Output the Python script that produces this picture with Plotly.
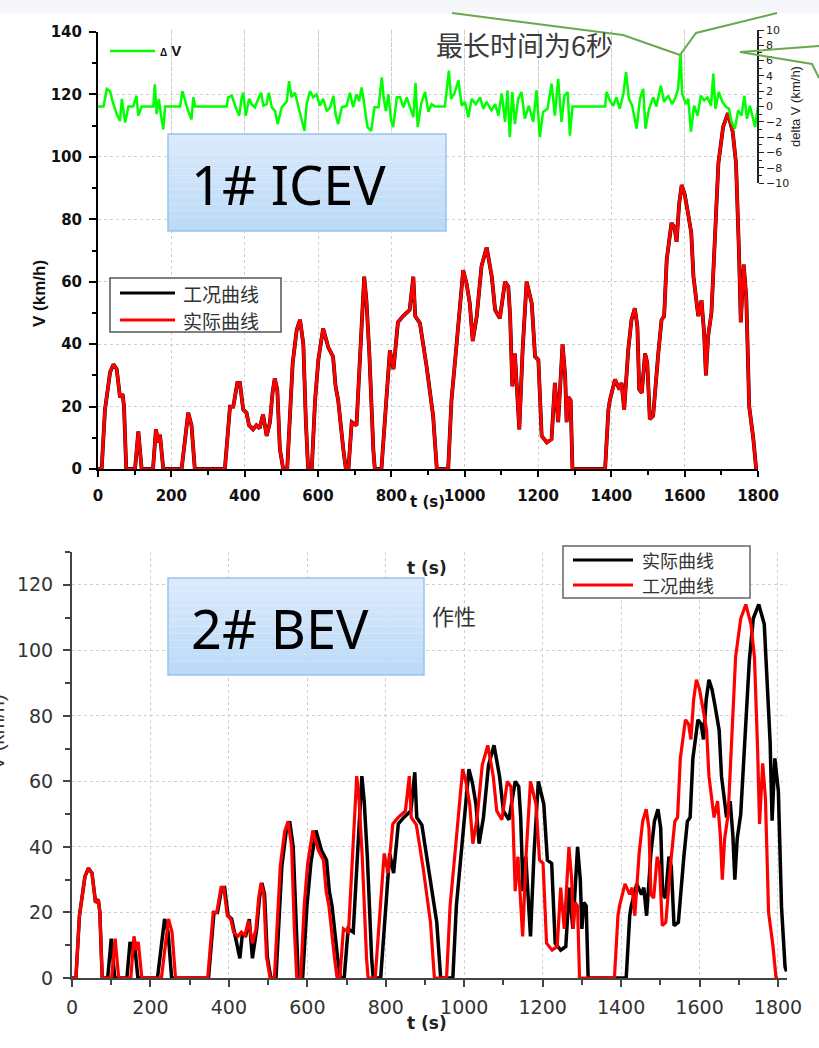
import plotly.graph_objects as go

W, H = 819, 1048

# ---------------- data ----------------
# Driving cycle (工况曲线), km/h vs s
cycle_t = [0, 10, 19, 33, 42, 51, 60, 67, 71, 77, 101, 110, 119, 150, 158, 164, 169, 173, 178, 228,
           246, 255, 264, 346, 360, 369, 380, 387, 396, 405, 412, 423, 432, 441, 450, 460, 469, 476, 482, 489,
           496, 505, 516, 531, 542, 551, 560, 567, 573, 583, 592, 601, 614, 628, 641, 648, 655, 669, 676, 683,
           692, 705, 719, 726, 732, 740, 751, 755, 773, 787, 796, 806, 818, 832, 850, 860, 865, 878, 896, 914,
           924, 955, 964, 978, 987, 996, 1005, 1014, 1022, 1033, 1046, 1060, 1074, 1083, 1096, 1110, 1119, 1124, 1130, 1137,
           1149, 1158, 1169, 1183, 1192, 1201, 1210, 1224, 1237, 1246, 1255, 1267, 1274, 1278, 1283, 1289, 1294, 1383, 1392, 1396,
           1410, 1422, 1428, 1435, 1446, 1455, 1464, 1471, 1476, 1483, 1492, 1498, 1505, 1514, 1528, 1537, 1544, 1551, 1564, 1572,
           1578, 1585, 1592, 1600, 1609, 1618, 1624, 1637, 1646, 1653, 1658, 1664, 1673, 1680, 1692, 1705, 1718, 1731, 1740, 1748,
           1753, 1761, 1768, 1776, 1787, 1795, 1800]
cycle_v = [0, 0, 19, 31, 33.5, 32, 23, 24, 20, 0, 0, 12, 0, 0, 12.7, 8.5, 11, 6, 0, 0,
           18, 14, 0, 0, 20, 20, 27.6, 27.6, 19, 18, 14, 12.7, 14, 13, 17.5, 10.6, 15, 24.4, 29, 25.5,
           6.4, 0, 0, 34, 44.6, 47.8, 40, 15, 0, 0, 22, 35, 45, 39, 36, 26.5, 22, 6.4, 0, 0,
           15, 14, 47, 61.6, 54, 37, 6, 0, 0, 23, 38, 32, 47, 49, 51, 61.6, 49, 46.7, 33, 17,
           0, 0, 22, 40, 51, 63.7, 59.5, 53, 41, 49, 65, 71, 61.6, 51, 48.3, 60, 58.4, 49, 26.5, 37,
           12.7, 38, 60, 53, 36, 35, 10.6, 8.5, 9.6, 27.6, 15, 40, 30, 15, 23, 22, 0, 0, 19, 22,
           28.7, 25.5, 27.6, 19, 38, 47.8, 51.5, 45.7, 25.5, 24.4, 37, 34, 16, 17, 37, 47.8, 49, 67, 78.8, 77.5,
           72.8, 85, 91, 88, 82, 75.6, 61.6, 49, 54, 43.5, 30, 42.5, 50, 68, 98, 109.7, 114, 108, 98, 70,
           47, 65.5, 55, 20, 10, 0, 0]

# 1# ICEV measured speed (实际曲线) - coincides with the cycle
icev_actual_t = list(cycle_t)
icev_actual_v = list(cycle_v)

# 2# BEV measured speed (实际曲线) - lags the cycle
bev_actual_t = [0, 10, 19, 33, 42, 51, 60, 67, 71, 77, 91, 100, 109, 140, 148, 154, 159, 163, 168, 218,
                236, 245, 254, 348, 362, 371, 382, 389, 398, 407, 414, 428, 434, 443, 452, 460, 471, 478, 484, 491,
                498, 507, 520, 535, 546, 555, 564, 571, 577, 588, 599, 609, 622, 636, 649, 656, 663, 677, 684, 694,
                704, 717, 732, 739, 745, 753, 764, 768, 787, 801, 810, 820, 832, 846, 864, 874, 879, 892, 910, 930,
                940, 971, 980, 994, 1003, 1012, 1021, 1030, 1038, 1049, 1062, 1076, 1090, 1100, 1114, 1130, 1139, 1144, 1150, 1157,
                1169, 1178, 1189, 1203, 1212, 1223, 1232, 1246, 1259, 1268, 1277, 1289, 1296, 1300, 1305, 1311, 1316, 1413, 1422, 1426,
                1440, 1452, 1458, 1465, 1476, 1485, 1494, 1501, 1506, 1513, 1522, 1528, 1535, 1546, 1560, 1569, 1576, 1583, 1596, 1604,
                1610, 1617, 1624, 1632, 1641, 1650, 1656, 1669, 1678, 1685, 1690, 1696, 1705, 1714, 1727, 1737, 1751, 1765, 1774, 1780,
                1785, 1792, 1801, 1809, 1818, 1822]
bev_actual_v = [0, 0, 19, 31, 33.5, 32, 23, 24, 20, 0, 0, 12, 0, 0, 11, 8.5, 11, 6, 0, 0,
                18, 14, 0, 0, 20, 20, 27.6, 27.6, 19, 18, 14, 6, 13, 13, 18, 6, 15, 24.4, 29, 25.5,
                6.4, 0, 0, 34, 44.6, 47.8, 40, 15, 0, 0, 22, 35, 45, 39, 36, 26.5, 22, 6.4, 0, 0,
                15, 14, 47, 61.6, 54, 37, 6, 0, 0, 23, 38, 32, 47, 49, 51, 62.8, 49, 46.7, 33, 17,
                0, 0, 22, 40, 51, 63.7, 59.5, 53, 41, 49, 65, 71, 61.6, 51, 48.3, 60, 58.4, 49, 26.5, 37,
                12.7, 38, 60, 53, 36, 35, 10.6, 8.5, 9.6, 27.6, 15, 40, 30, 15, 23, 22, 0, 0, 19, 22,
                28.7, 25.5, 27.6, 19, 38, 47.8, 51.5, 45.7, 25.5, 24.4, 37, 34, 16, 17, 37, 47.8, 49, 67, 78.8, 77.5,
                72.8, 85, 91, 88, 82, 75.6, 61.6, 49, 54, 43.5, 30, 42.5, 50, 70, 97, 109.7, 114, 108, 88, 72,
                48, 67, 57, 21.7, 3.4, 2]

# ΔV = actual - cycle (1# ICEV), km/h
dv_t = [0, 15, 24, 33, 42, 51, 60, 65, 74, 83, 96, 105, 110, 119, 151, 155, 160, 166, 172, 178,
        183, 224, 230, 237, 246, 255, 260, 265, 351, 355, 365, 374, 385, 392, 396, 403, 412, 419, 428, 437,
        445, 451, 460, 466, 474, 483, 490, 501, 515, 521, 528, 537, 546, 555, 563, 569, 578, 587, 596, 605,
        614, 624, 633, 642, 648, 655, 665, 678, 687, 696, 705, 712, 719, 726, 735, 745, 754, 765, 774, 779,
        785, 792, 799, 805, 815, 824, 833, 842, 851, 860, 866, 872, 881, 892, 901, 910, 919, 946, 957, 963,
        972, 983, 992, 1001, 1010, 1019, 1030, 1042, 1051, 1060, 1073, 1083, 1092, 1101, 1110, 1117, 1123, 1130, 1137, 1146,
        1155, 1164, 1175, 1187, 1196, 1205, 1214, 1226, 1237, 1246, 1255, 1264, 1272, 1281, 1287, 1294, 1383, 1387, 1396, 1405,
        1414, 1423, 1433, 1440, 1448, 1457, 1469, 1478, 1487, 1493, 1503, 1514, 1523, 1535, 1544, 1555, 1566, 1575, 1582, 1589,
        1593, 1603, 1610, 1617, 1626, 1635, 1644, 1653, 1662, 1672, 1678, 1684, 1693, 1703, 1712, 1721, 1728, 1737, 1746, 1755,
        1763, 1770, 1778, 1784, 1792, 1800]
dv_v = [0, 0, 2.3, 2, 0.3, -1, -1.9, 1, -2.1, 0, 0, 1.4, -1.2, 0, 0, 2.9, -1, 1, -1.2, -3,
        0, 0, 2, 0.7, -0.6, -1.7, 1.2, 0, 0, 1.2, 1.4, 0.1, -1.2, 1.2, 1.8, -1.2, 1, 0.3, -0.1, 1,
        1.8, 0.1, 0.3, 1.8, -0.1, -0.6, -2.3, -0.1, 0.7, 3.3, 1.2, 1.8, 0.1, -1.4, -3.2, 0.3, 2, 1.2, 1.6, 0.1,
        1, -0.6, -0.1, 1.4, -1, -2.3, -0.1, 0.1, 1.8, -0.1, 1.6, 0.7, 2.5, 0.3, -2.7, -3.2, -0.1, -0.1, 3.8, 1.2,
        -0.6, 1.6, -1.7, -2.7, 1.2, 1.2, -0.1, 1.2, -0.1, -1.4, 3.1, -2.7, 0.3, 1.9, -0.7, 0.3, 0, 0, 4.7, 1,
        1.7, 3.4, 0.1, 0.6, -1.4, 1, 0.3, 1.2, -0.3, 0.6, -0.5, 0.3, -1.2, 1.7, -2, 2.1, -4, 1.9, -2.3, 1,
        1.9, -1.6, 0.1, -2, 2.1, -4, -0.7, -0.3, 3, -1.2, 3.6, -2, 1.4, 1.9, -3.8, 0, 0, 1.9, 0.8, 0.1,
        1.2, -0.3, 1.7, 4.5, 1, 0.1, -2.9, 1, 2.3, -2.9, -0.3, 1.2, 0, 2.7, 0.6, 1.4, 0.3, 1.2, 2.3, 6.9,
        1.7, 0.3, 1, -3.3, 0.1, -1.2, 1.4, 0.8, 1.2, 0.1, 4.3, -0.3, 1.9, 0.6, 0, -0.3, -2, -2.9, -0.5, -1.2,
        1.4, -1.6, 0.1, -1, -2.7, 0.1]

x_ticks = [0, 200, 400, 600, 800, 1000, 1200, 1400, 1600, 1800]


def px(x):
    return x / W


def py(y):
    return 1 - y / H


fig = go.Figure()

# top panel: 1# ICEV
fig.add_trace(go.Scatter(x=cycle_t, y=cycle_v, mode="lines", name="工况曲线",
                         line=dict(color="black", width=3.8), xaxis="x", yaxis="y", showlegend=False))
fig.add_trace(go.Scatter(x=icev_actual_t, y=icev_actual_v, mode="lines", name="实际曲线",
                         line=dict(color="#ff0000", width=3.2), xaxis="x", yaxis="y", showlegend=False))
fig.add_trace(go.Scatter(x=dv_t, y=dv_v, mode="lines", name="ΔV",
                         line=dict(color="#00ff00", width=2.5), xaxis="x", yaxis="y3", showlegend=False))

# bottom panel: 2# BEV
fig.add_trace(go.Scatter(x=bev_actual_t, y=bev_actual_v, mode="lines", name="实际曲线",
                         line=dict(color="black", width=3.5), xaxis="x2", yaxis="y2", showlegend=False))
fig.add_trace(go.Scatter(x=cycle_t, y=cycle_v, mode="lines", name="工况曲线",
                         line=dict(color="#ff0000", width=3.2), xaxis="x2", yaxis="y2", showlegend=False))

grid = dict(showgrid=True, gridcolor="#cfcfcf", griddash="dot", gridwidth=1, zeroline=False, automargin=False)

top_font = dict(family="DejaVu Sans", size=15, color="#111")
bot_font = dict(family="DejaVu Sans", size=19, color="#333")

fig.update_layout(
    width=W, height=H,
    margin=dict(l=0, r=0, t=0, b=0),
    paper_bgcolor="white", plot_bgcolor="rgba(0,0,0,0)",
    xaxis=dict(domain=[px(98), px(758)], range=[0, 1800], anchor="y",
               tickvals=x_ticks, ticks="outside", ticklen=6, tickwidth=2, tickcolor="black",
               showline=True, linecolor="black", linewidth=2, tickfont=dict(top_font, weight="bold"),
               ticklabelstandoff=6,
               minor=dict(ticks="outside", ticklen=4, tickwidth=1.5, tickcolor="black", dtick=100, showgrid=False),
               **grid),
    yaxis=dict(domain=[py(469), py(32)], range=[0, 140], anchor="x",
               dtick=20, ticks="outside", ticklen=7, tickwidth=2, tickcolor="black",
               showline=True, linecolor="black", linewidth=2, tickfont=dict(top_font, weight="bold"),
               ticklabelstandoff=4,
               minor=dict(ticks="outside", ticklen=4, tickwidth=1.5, tickcolor="black", dtick=10, showgrid=False),
               **grid),
    yaxis3=dict(domain=[py(183), py(30)], range=[-10, 10], anchor="free", position=px(758), side="right",
                dtick=2, ticks="outside", ticklen=5, tickwidth=1.2, tickcolor="#222",
                showline=True, linecolor="#222", linewidth=1.5,
                tickfont=dict(family="DejaVu Sans", size=11, color="#222"),
                minor=dict(ticks="outside", ticklen=3, tickwidth=1, tickcolor="#222", dtick=1, showgrid=False),
                showgrid=False, zeroline=False, automargin=False,
                title=dict(text="delta V (km/h)", font=dict(family="Liberation Sans", size=13, color="#222"),
                           standoff=2)),
    xaxis2=dict(domain=[px(72), px(787)], range=[0, 1823], anchor="y2",
                tickvals=x_ticks, ticks="outside", ticklen=7, tickwidth=2, tickcolor="#444",
                showline=True, linecolor="#444", linewidth=2, tickfont=bot_font, ticklabelstandoff=4,
                minor=dict(ticks="outside", ticklen=5, tickwidth=1.5, tickcolor="#444", dtick=100, showgrid=False),
                **grid),
    yaxis2=dict(domain=[py(978), py(552)], range=[0, 130], anchor="x2",
                tickvals=[0, 20, 40, 60, 80, 100, 120], ticks="outside", ticklen=7, tickwidth=2, tickcolor="#444",
                showline=True, linecolor="#444", linewidth=2, tickfont=bot_font, ticklabelstandoff=6,
                minor=dict(ticks="outside", ticklen=5, tickwidth=1.5, tickcolor="#444", dtick=10, showgrid=False),
                **grid),
)

shapes = []
annotations = []

# top light strip
shapes.append(dict(type="rect", xref="paper", yref="paper", x0=0, x1=1, y0=py(13), y1=1,
                   fillcolor="#f6f7fb", line=dict(width=0), layer="below"))

# callout lines (green, from the slide)
callout_col = "#6aa84f"
for seg in [[(452, 13), (623, 35), (680, 55)], [(680, 55), (696, 33), (777, 13)],
            [(819, 46), (740, 52), (812, 64), (819, 78)]]:
    path = "M " + " L ".join(f"{px(a)},{py(b)}" for a, b in seg)
    shapes.append(dict(type="path", xref="paper", yref="paper", path=path,
                       line=dict(color=callout_col, width=2), layer="above"))

annotations.append(dict(x=px(615), y=py(23), xref="paper", yref="paper", text="最长时间为6秒",
                        showarrow=False, font=dict(family="Noto Sans CJK SC", size=27, color="#3a3a3a")))


def grad_box(x0, y0, x1, y1):
    n = 14
    c0 = (219, 234, 252)
    c1 = (187, 218, 247)
    for i in range(n):
        f = i / (n - 1)
        c = tuple(int(round(c0[k] + (c1[k] - c0[k]) * f)) for k in range(3))
        ya = y0 + (y1 - y0) * i / n
        yb = y0 + (y1 - y0) * (i + 1) / n
        shapes.append(dict(type="rect", xref="paper", yref="paper", x0=px(x0), x1=px(x1),
                           y0=py(yb), y1=py(ya), fillcolor="rgb(%d,%d,%d)" % c,
                           line=dict(width=0), layer="above"))
    shapes.append(dict(type="rect", xref="paper", yref="paper", x0=px(x0), x1=px(x1), y0=py(y1), y1=py(y0),
                       fillcolor="rgba(0,0,0,0)", line=dict(color="#99c3ec", width=1.5), layer="above"))


grad_box(168, 134, 446, 231)
grad_box(168, 578, 424, 675)
annotations.append(dict(x=px(189), y=py(184), xref="paper", yref="paper", text="1# ICEV", xanchor="left",
                        yanchor="middle", showarrow=False,
                        font=dict(family="Noto Sans", size=54, color="black")))
annotations.append(dict(x=px(189), y=py(628), xref="paper", yref="paper", text="2# BEV", xanchor="left",
                        yanchor="middle", showarrow=False,
                        font=dict(family="Noto Sans", size=54, color="black")))

# ΔV legend
shapes.append(dict(type="line", xref="paper", yref="paper", x0=px(110), x1=px(155), y0=py(51), y1=py(51),
                   line=dict(color="#00ff00", width=2.5), layer="above"))
annotations.append(dict(x=px(158), y=py(51), xref="paper", yref="paper", xanchor="left", yanchor="middle",
                        text="<span style='font-size:10px'>Δ</span> V", showarrow=False,
                        font=dict(family="Liberation Sans", size=15, color="#111", weight="bold")))

# top legend box
shapes.append(dict(type="rect", xref="paper", yref="paper", x0=px(110), x1=px(281), y0=py(332), y1=py(278),
                   fillcolor="white", line=dict(color="#555", width=1.5), layer="above"))
for yy, col, txt in [(293, "black", "工况曲线"), (320, "#ff0000", "实际曲线")]:
    shapes.append(dict(type="line", xref="paper", yref="paper", x0=px(120), x1=px(175), y0=py(yy), y1=py(yy),
                       line=dict(color=col, width=3), layer="above"))
    annotations.append(dict(x=px(181), y=py(yy), xref="paper", yref="paper", xanchor="left", yanchor="middle",
                            text=txt, showarrow=False,
                            font=dict(family="Noto Sans CJK SC", size=19, color="#333")))

# bottom legend box
shapes.append(dict(type="rect", xref="paper", yref="paper", x0=px(563), x1=px(750), y0=py(598), y1=py(546),
                   fillcolor="white", line=dict(color="#666", width=1.5), layer="above"))
for yy, col, txt in [(560, "black", "实际曲线"), (585, "#ff0000", "工况曲线")]:
    shapes.append(dict(type="line", xref="paper", yref="paper", x0=px(573), x1=px(633), y0=py(yy), y1=py(yy),
                       line=dict(color=col, width=3), layer="above"))
    annotations.append(dict(x=px(640), y=py(yy), xref="paper", yref="paper", xanchor="left", yanchor="middle",
                            text=txt, showarrow=False,
                            font=dict(family="Noto Sans CJK SC", size=18, color="#333")))

# axis titles
annotations.append(dict(x=px(28), y=py(258), xref="paper", yref="paper", text="V (km/h)", textangle=-90,
                        showarrow=False, font=dict(family="Liberation Sans", size=17, color="#111", weight="bold")))
annotations.append(dict(x=px(427), y=py(502), xref="paper", yref="paper", text="t (s)",
                        showarrow=False, font=dict(family="DejaVu Sans", size=15, color="#111", weight="bold")))
annotations.append(dict(x=px(427), y=py(1035), xref="paper", yref="paper", text="t (s)",
                        showarrow=False, font=dict(family="DejaVu Sans", size=17, color="#222", weight="bold")))
annotations.append(dict(x=px(-16), y=py(772), xref="paper", yref="paper", text="V (km/h)", textangle=-90,
                        showarrow=False, font=dict(family="Liberation Sans", size=20, color="#333")))
# stray text from the underlying page
annotations.append(dict(x=px(427), y=py(568), xref="paper", yref="paper", text="t (s)",
                        showarrow=False, font=dict(family="DejaVu Sans", size=17, color="#222", weight="bold")))
annotations.append(dict(x=px(454), y=py(615), xref="paper", yref="paper", text="作性",
                        showarrow=False, font=dict(family="Noto Sans CJK SC", size=22, color="#333")))

fig.update_layout(shapes=shapes, annotations=annotations)
fig.write_html("out.html", config={"displayModeBar": False},
               post_script="document.body.style.margin='0';document.body.style.padding='0';"
                           "document.body.style.overflow='hidden';")
